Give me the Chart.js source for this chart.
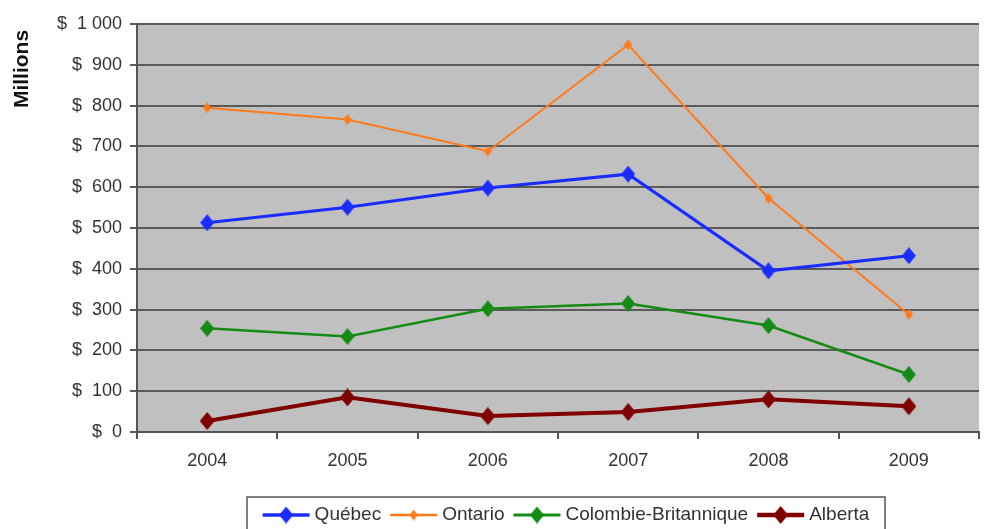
<!DOCTYPE html>
<html>
<head>
<meta charset="utf-8">
<script src="https://cdn.jsdelivr.net/npm/chart.js@4"></script>
<style>
  html, body { margin: 0; padding: 0; overflow: hidden; background: #fff; }
  canvas { display: block; }
</style>
</head>
<body>
<canvas id="chart" width="990" height="529"></canvas>
<script>
const years = ["2004", "2005", "2006", "2007", "2008", "2009"];
const quebec = [513, 551, 598, 632, 395, 432];
const ontario = [795, 766, 688, 949, 573, 288];
const colombieBritannique = [254, 234, 302, 315, 261, 141];
const alberta = [27, 85, 39, 49, 80, 63];
const yTicks = [0, 100, 200, 300, 400, 500, 600, 700, 800, 900, 1000];

const FONT = "'Liberation Sans', Arial, sans-serif";

function diamond(color, w, h) {
    const c = document.createElement('canvas');
    c.width = w; c.height = h;
    const g = c.getContext('2d');
    g.fillStyle = color;
    g.beginPath();
    g.moveTo(w / 2, 0); g.lineTo(w, h / 2); g.lineTo(w / 2, h); g.lineTo(0, h / 2);
    g.closePath(); g.fill();
    return c;
}

function fmt(v) { return v.toString().replace(/\B(?=(\d{3})+(?!\d))/g, ' '); }

// gray plot background
const bgPlugin = {
    id: 'plotBg',
    beforeDraw(chart) {
        const { ctx, chartArea: a } = chart;
        ctx.save();
        ctx.fillStyle = '#c0c0c0';
        ctx.fillRect(a.left, a.top, a.right - a.left, a.bottom - a.top);
        ctx.restore();
    }
};

// "Millions" label and the boxed legend underneath
const extrasPlugin = {
    id: 'extras',
    afterDraw(chart) {
        const ctx = chart.ctx;
        ctx.save();
        ctx.translate(22, 69);
        ctx.rotate(-Math.PI / 2);
        ctx.font = "bold 21px " + FONT;
        ctx.fillStyle = '#111';
        ctx.textAlign = 'center';
        ctx.textBaseline = 'middle';
        ctx.fillText('Millions', 0, 0);
        ctx.restore();

        ctx.save();
        ctx.font = "19px " + FONT;
        const lineLen = 47, gapText = 5, gapItem = 9;
        const items = chart.data.datasets.map(ds => ({ ds, w: ctx.measureText(ds.label).width }));
        let total = 0;
        items.forEach((it, i) => { total += lineLen + gapText + it.w + (i < items.length - 1 ? gapItem : 0); });
        const boxL = 247, boxR = 885, boxT = 497, cy = 515;
        let x = (boxL + boxR) / 2 - total / 2;
        ctx.strokeStyle = '#555';
        ctx.lineWidth = 1.5;
        ctx.strokeRect(boxL, boxT, boxR - boxL, 50);
        items.forEach(it => {
            const ds = it.ds;
            ctx.strokeStyle = ds.borderColor;
            ctx.lineWidth = ds.borderWidth + 0.5;
            ctx.beginPath(); ctx.moveTo(x, cy); ctx.lineTo(x + lineLen, cy); ctx.stroke();
            const img = ds.pointStyle;
            ctx.drawImage(img, x + lineLen / 2 - img.width / 2, cy - img.height / 2);
            x += lineLen + gapText;
            ctx.fillStyle = '#333';
            ctx.textAlign = 'left';
            ctx.textBaseline = 'middle';
            ctx.fillText(ds.label, x, cy);
            x += it.w + gapItem;
        });
        ctx.restore();
    }
};

new Chart(document.getElementById('chart'), {
    type: 'line',
    data: {
        labels: years,
        datasets: [
            { label: 'Québec', data: quebec, borderColor: '#1a2cff', borderWidth: 3,
              pointStyle: diamond('#1a2cff', 14, 17) },
            { label: 'Ontario', data: ontario, borderColor: '#ff7a1a', borderWidth: 2,
              pointStyle: diamond('#ff7a1a', 8, 11) },
            { label: 'Colombie-Britannique', data: colombieBritannique, borderColor: '#158a15', borderWidth: 2.5,
              pointStyle: diamond('#158a15', 14, 17) },
            { label: 'Alberta', data: alberta, borderColor: '#800000', borderWidth: 4,
              pointStyle: diamond('#800000', 15, 18) },
        ],
    },
    options: {
        responsive: false,
        animation: false,
        layout: { padding: { top: 24, bottom: 52, left: 0, right: 0 } },
        plugins: { legend: { display: false }, tooltip: { enabled: false } },
        elements: { line: { tension: 0 }, point: { radius: 7 } },
        scales: {
            x: {
                offset: true,
                afterFit(s) { s.height = 45; },
                grid: { display: true, drawOnChartArea: false, offset: true, tickLength: 7, color: '#555', lineWidth: 2 },
                border: { display: true, color: '#555', width: 2 },
                ticks: { padding: 11, color: '#333', font: { family: FONT, size: 18 } },
            },
            y: {
                min: 0, max: 1000,
                afterFit(s) { s.width = 137; },
                afterBuildTicks(s) { s.ticks = yTicks.map(v => ({ value: v })); },
                grid: { color: '#5a5a5a', lineWidth: 2, tickLength: 7 },
                border: { display: true, color: '#555', width: 2 },
                ticks: { padding: 8, color: '#333', font: { family: FONT, size: 18 },
                         callback: v => '$  ' + fmt(v) },
            },
        },
    },
    plugins: [bgPlugin, extrasPlugin],
});
</script>
</body>
</html>
